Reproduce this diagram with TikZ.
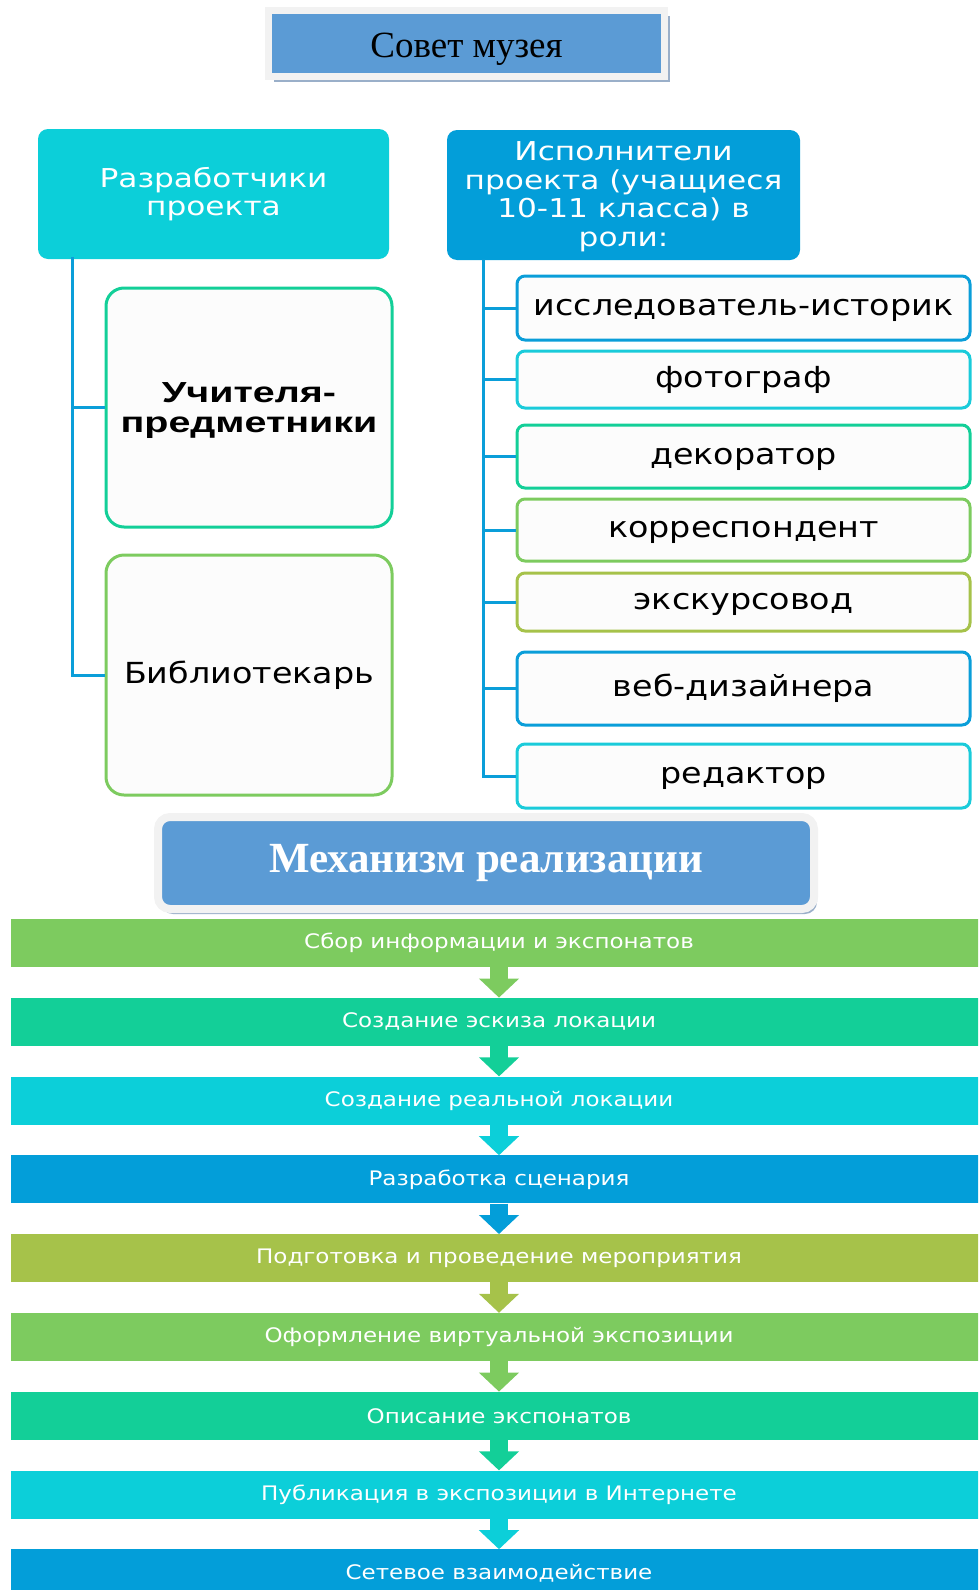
\documentclass[tikz,border=0pt]{standalone}
\usepackage{fontspec}
\newfontfamily\vfont[FakeStretch=1.15]{DejaVu Sans}
\newfontfamily\hfont[FakeStretch=1.2]{DejaVu Sans}
\newfontfamily\afont[FakeStretch=1.36]{Liberation Sans}
\newfontfamily\sfont{Liberation Serif}
\usetikzlibrary{positioning, shadows, arrows.meta}

\definecolor{panelblue}{HTML}{5B9BD5}
\definecolor{framegrey}{HTML}{F2F2F2}
\definecolor{shadowblue}{HTML}{9AAFC9}
\definecolor{devcyan}{HTML}{0CCFD9}
\definecolor{perfblue}{HTML}{039ED9}
\definecolor{linkblue}{HTML}{0A9ED9}
\definecolor{cyanb}{HTML}{1ACBDA}
\definecolor{tealg}{HTML}{13CF98}
\definecolor{grn}{HTML}{7DCB5F}
\definecolor{olive}{HTML}{A6C24A}
\definecolor{paper}{HTML}{FCFCFC}

\begin{document}
\begin{tikzpicture}[x=1pt, y=-1pt,
    titlebox/.style = {fill=panelblue, draw=framegrey, line width=7pt, inner sep=0pt,
        minimum width=396pt, minimum height=66pt, text height=37pt, text depth=9pt,
        drop shadow={shadow xshift=5pt, shadow yshift=-5pt, fill=shadowblue, opacity=1},
        font=\sfont\fontsize{37}{40}\selectfont},
    mechbox/.style = {fill=panelblue, draw=framegrey, line width=8pt, inner sep=0pt,
        rounded corners=12pt, minimum width=656pt, minimum height=92pt, text=white,
        drop shadow={shadow xshift=3pt, shadow yshift=-5pt, fill=shadowblue, opacity=1},
        font=\sfont\bfseries\fontsize{43}{48}\selectfont},
    headbox/.style = {rounded corners=10pt, minimum width=351pt, minimum height=130pt,
        text=white, align=center, font=\hfont\fontsize{26}{28.5}\selectfont},
    staffbox/.style = {draw, line width=3pt, rounded corners=18pt, fill=paper,
        minimum width=286pt, minimum height=239pt, align=center,
        font=\vfont\fontsize{29}{34}\selectfont},
    rolebox/.style = {draw, line width=3pt, rounded corners=8pt, fill=paper,
        minimum width=453pt, text height=22pt, text depth=7pt,
        font=\vfont\fontsize{29}{34}\selectfont},
    link/.style = {draw=linkblue, line width=3pt},
    stepbar/.style = {minimum width=976pt, minimum height=48pt, inner sep=0pt,
        text=white, font=\vfont\fontsize{20}{22}\selectfont},
    stepflow/.style = {draw=#1, line width=18pt, -{Triangle[width=39pt, length=19pt]}}]
    \clip (0,0) rectangle (978,1590);

    % top
    \node[titlebox] (council) at (466.5,43.5) {Совет музея};
    \node[headbox, fill=devcyan] (dev) at (213.5,194) {Разработчики\\проекта};
    \node[headbox, fill=perfblue, minimum width=353pt] (perf) at (623.5,195)
        {\rule{0pt}{22pt}Исполнители\\проекта (учащиеся\\10-11 класса) в\\роли:};

    % left column
    \node[staffbox, draw=tealg, font=\afont\bfseries\fontsize{29}{29.5}\selectfont] (teach) at (249,407.5) {\rule{0pt}{26pt}Учителя-\\предметники};
    \node[staffbox, draw=grn, minimum height=240pt] (libr) at (249,675) {Библиотекарь};
    \coordinate (devroot) at (72,257);
    \draw[link] (devroot) |- (teach);
    \draw[link] (devroot) |- (libr);

    % right column
    \node[rolebox, draw=linkblue, minimum height=64pt] (r1) at (743.5,308) {исследователь-историк};
    \node[rolebox, draw=cyanb, minimum height=57pt] (r2) at (743.5,379.5) {фотограф};
    \node[rolebox, draw=tealg, minimum height=63pt] (r3) at (743.5,456.5) {декоратор};
    \node[rolebox, draw=grn, minimum height=62pt] (r4) at (743.5,530) {корреспондент};
    \node[rolebox, draw=olive, minimum height=58pt] (r5) at (743.5,602) {экскурсовод};
    \node[rolebox, draw=linkblue, minimum height=73pt] (r6) at (743.5,688.5) {веб-дизайнера};
    \node[rolebox, draw=cyanb, minimum height=64pt] (r7) at (743.5,776) {редактор};
    \coordinate (perfroot) at (483,259);
    \draw[link] (perfroot) |- (r1);
    \draw[link] (perfroot) |- (r2);
    \draw[link] (perfroot) |- (r3);
    \draw[link] (perfroot) |- (r4);
    \draw[link] (perfroot) |- (r5);
    \draw[link] (perfroot) |- (r6);
    \draw[link] (perfroot) |- (r7);

    % mechanism
    \node[mechbox] (mech) at (486,863) {Механизм реализации};
    \node[stepbar, fill=grn] (s1) at (499,943) {Сбор информации и экспонатов};
    \node[stepbar, fill=tealg, below=30.4pt of s1] (s2) {Создание эскиза локации};
    \node[stepbar, fill=devcyan, below=30.4pt of s2] (s3) {Создание реальной локации};
    \node[stepbar, fill=perfblue, below=30.4pt of s3] (s4) {Разработка сценария};
    \node[stepbar, fill=olive, below=30.4pt of s4] (s5) {Подготовка и проведение мероприятия};
    \node[stepbar, fill=grn, below=30.4pt of s5] (s6) {Оформление виртуальной экспозиции};
    \node[stepbar, fill=tealg, below=30.4pt of s6] (s7) {Описание экспонатов};
    \node[stepbar, fill=devcyan, below=30.4pt of s7] (s8) {Публикация в экспозиции в Интернете};
    \node[stepbar, fill=perfblue, below=30.4pt of s8] (s9) {Сетевое взаимодействие};
    \draw[stepflow=grn] (s1.south) -- (s2.north);
    \draw[stepflow=tealg] (s2.south) -- (s3.north);
    \draw[stepflow=devcyan] (s3.south) -- (s4.north);
    \draw[stepflow=perfblue] (s4.south) -- (s5.north);
    \draw[stepflow=olive] (s5.south) -- (s6.north);
    \draw[stepflow=grn] (s6.south) -- (s7.north);
    \draw[stepflow=tealg] (s7.south) -- (s8.north);
    \draw[stepflow=devcyan] (s8.south) -- (s9.north);
\end{tikzpicture}
\end{document}
